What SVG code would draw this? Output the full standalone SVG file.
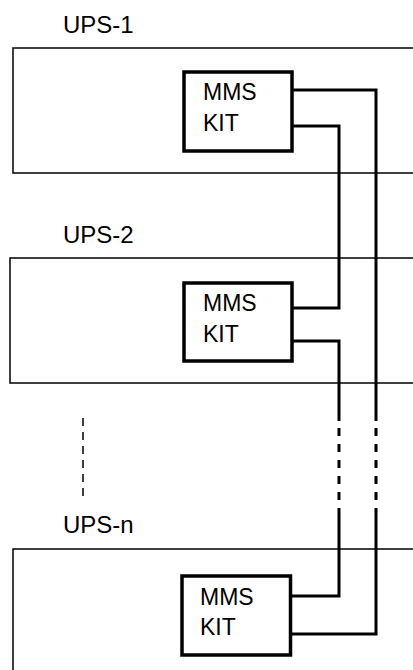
<svg xmlns="http://www.w3.org/2000/svg" width="413" height="670" viewBox="0 0 413 670">
<style>
.ups{fill:none;stroke:#000;stroke-width:1.5}
.kit{fill:#fff;stroke:#000;stroke-width:3.5}
.lbl{font-family:"Liberation Sans",Arial,sans-serif;font-size:24px;fill:#000}
.kt{font-family:"Liberation Sans",Arial,sans-serif;font-size:23px;fill:#000}
.w{fill:none;stroke:#000;stroke-width:3}
.wd{fill:none;stroke:#000;stroke-width:3;stroke-dasharray:8 8}
.dots{fill:none;stroke:#000;stroke-width:1.5;stroke-dasharray:8 6}
</style>
<rect width="413" height="670" fill="#fff"/>
<g id="ups1">
<text class="lbl" x="63" y="32.5">UPS-1</text>
<rect class="ups" x="13" y="48" width="420" height="125"/>
</g>
<g id="ups2">
<text class="lbl" x="63" y="242.5">UPS-2</text>
<rect class="ups" x="10" y="258" width="420" height="125"/>
</g>
<g id="upsn">
<text class="lbl" x="63" y="533">UPS-n</text>
<rect class="ups" x="13" y="549" width="420" height="140"/>
</g>
<g id="connectors">
<path class="w" d="M292 90 H376 V421"/>
<path class="wd" d="M376 428 V500"/>
<path class="w" d="M376 508 V634 H290"/>
<path class="w" d="M292 126 H339 V308 H292"/>
<path class="w" d="M292 341 H339 V421"/>
<path class="wd" d="M339 428 V500"/>
<path class="w" d="M339 508 V596 H290"/>
<path class="dots" d="M83 418 V496"/>
</g>
<g id="kit1">
<rect class="kit" x="184" y="72" width="108" height="79"/>
<text class="kt" x="203" y="99.5">MMS</text>
<text class="kt" x="203" y="130.5">KIT</text>
</g>
<g id="kit2">
<rect class="kit" x="184" y="283" width="108" height="78"/>
<text class="kt" x="203" y="310.5">MMS</text>
<text class="kt" x="203" y="341.5">KIT</text>
</g>
<g id="kitn">
<rect class="kit" x="182" y="576" width="108.5" height="79"/>
<text class="kt" x="200" y="604.5">MMS</text>
<text class="kt" x="200" y="635">KIT</text>
</g>
</svg>
